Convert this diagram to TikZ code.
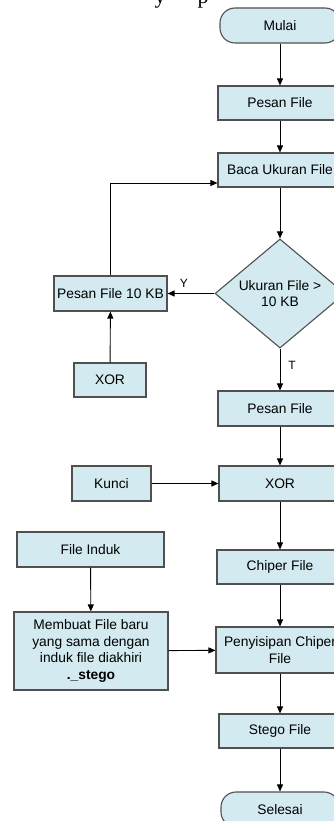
\documentclass[tikz,border=0pt]{standalone}
\usepackage{fontspec}
\setmainfont{Liberation Sans}
\newfontfamily\serifpart{Liberation Serif}
\usetikzlibrary{shapes.geometric,arrows.meta}
\definecolor{boxfill}{RGB}{210,234,240}
\definecolor{boxline}{RGB}{80,80,80}
\tikzset{
  base/.style={draw=boxline, line width=1.1pt, fill=boxfill, inner sep=0pt,
    align=center, font=\fontsize{13.8}{16.5}\selectfont},
  procbox/.style={base, rectangle, minimum height=34pt},
  termbox/.style={base, rectangle, rounded corners=15pt, minimum height=35pt},
  decbox/.style={base, diamond, minimum width=130pt, minimum height=97pt},
  conn/.style={line width=0.9pt, -{Triangle[length=7pt,width=6pt]}},
  lbl/.style={font=\fontsize{12}{14}\selectfont, inner sep=0pt}
}
\begin{document}
\begin{tikzpicture}[x=1pt,y=-1pt]
\useasboundingbox (0,0) rectangle (334,821);
% fragment of page text above
\node[font=\serifpart\fontsize{22}{24}\selectfont, anchor=base, inner sep=0pt] (fy) at (160,4) {y};
\node[font=\serifpart\fontsize{22}{24}\selectfont, anchor=base, inner sep=0pt] (fp) at (203,4) {p};
% right column
\node[termbox, minimum width=120pt] (mulai) at (280,25.5) {Mulai};
\node[procbox, minimum width=124pt] (pesan1) at (280,103) {Pesan File};
\node[procbox, minimum width=124pt] (baca) at (280,170) {Baca Ukuran File};
\node[decbox] (dec) at (280,293.5) {Ukuran File >\\10 KB};
\node[procbox, minimum width=124pt, minimum height=35pt] (pesan2) at (280,408.5) {Pesan File};
\node[procbox, minimum width=122pt, minimum height=35pt] (xor2) at (280,483.5) {XOR};
\node[procbox, minimum width=126pt] (chiper) at (280,567) {Chiper File};
\node[procbox, minimum width=128pt, minimum height=46pt] (sisip) at (280,650) {Penyisipan Chiper\\File};
\node[procbox, minimum width=122pt] (stego) at (280,731) {Stego File};
\node[termbox, minimum width=118pt] (selesai) at (280,809.5) {Selesai};
% left side
\node[procbox, minimum width=113pt, minimum height=35pt] (p10) at (110.5,293.5) {Pesan File 10 KB};
\node[procbox, minimum width=72pt] (xor1) at (110,380) {XOR};
\node[procbox, minimum width=79pt, minimum height=35pt] (kunci) at (111.5,483.5) {Kunci};
\node[procbox, minimum width=147pt, minimum height=35pt] (induk) at (90.5,549.5) {File Induk};
\node[procbox, minimum width=154pt, minimum height=78pt] (buat) at (91,651) {Membuat File baru\\yang sama dengan\\induk file diakhiri\\\textbf{.\_stego}};
% connectors
\coordinate (bacain) at (baca.south west |- 0,183);
\draw[conn] (mulai) -- (pesan1);
\draw[conn] (pesan1) -- (baca);
\draw[conn] (baca) -- (dec);
\draw[conn] (dec) -- node[lbl, above=6pt, pos=0.65] (ly) {Y} (p10);
\draw[conn] (dec) -- node[lbl, right=8pt, pos=0.4] (lt) {T} (pesan2);
\draw[conn] (p10.north) |- (bacain);
\draw[conn] (xor1) -- (p10);
\draw[conn] (pesan2) -- (xor2);
\draw[conn] (kunci) -- (xor2);
\draw[conn] (xor2) -- (chiper);
\draw[conn] (chiper) -- (sisip);
\draw[conn] (induk) -- (buat);
\draw[conn] (buat) -- (sisip);
\draw[conn] (sisip) -- (stego);
\draw[conn] (stego) -- (selesai);
\end{tikzpicture}
\end{document}
